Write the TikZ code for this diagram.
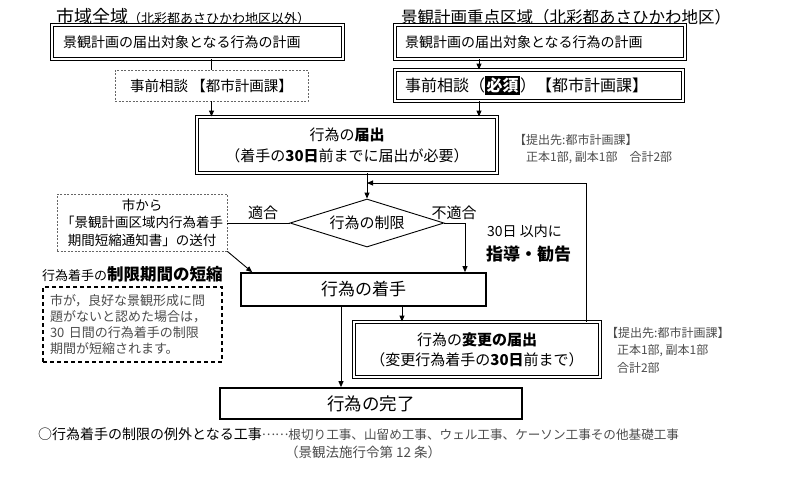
\documentclass[tikz,border=0pt]{standalone}
\usepackage{fontspec}
\setmainfont{Noto Sans CJK JP}
\usepackage{xcolor}
\usepackage{tikz}
\usetikzlibrary{arrows.meta,positioning,shapes.geometric}
\newcommand{\fsz}[1]{\fontsize{#1}{#1}\selectfont}

\begin{document}
\begin{tikzpicture}[
    x=1pt, y=-1pt,
    >={Triangle[length=6pt,width=5pt]},
    link/.style={line width=0.9pt},
    dbox/.style={draw, line width=0.9pt, double=white, double distance=1.4pt, inner sep=0pt, align=center},
    tbox/.style={draw, line width=1.7pt, inner sep=0pt, align=center},
    dotbox/.style={draw=black!60, dash pattern=on 2pt off 1.5pt, line width=0.9pt, inner sep=0pt, align=center},
    note/.style={anchor=west, align=left, text=black!70, inner sep=0pt},
    lab/.style={inner sep=0pt, font=\fsz{15}}
]
\useasboundingbox (0,0) rectangle (810,477);
\node[anchor=west, inner sep=0pt] (hdrL) at (56,17) {\fsz{18}市域全域\fsz{13}（北彩都あさひかわ地区以外）};
\node[anchor=west, inner sep=0pt] (hdrR) at (401,17) {\fsz{16.5}景観計画重点区域（北彩都あさひかわ地区）};
\node[dbox, minimum width=291pt, minimum height=34pt, text width=269pt, align=left, font=\fsz{14}] (planL) at (197.5,42) {景観計画の届出対象となる行為の計画};
\node[dbox, minimum width=290pt, minimum height=34pt, text width=270pt, align=left, font=\fsz{14}] (planR) at (540,42) {景観計画の届出対象となる行為の計画};
\node[dotbox, minimum width=193pt, minimum height=31pt, font=\fsz{14.5}] (soudanL) at (211.5,85.5) {事前相談 【都市計画課】};
\node[dbox, minimum width=288pt, minimum height=31pt, text width=268pt, align=left, font=\fsz{16}] (soudanR) at (539,85.5) {事前相談（{\setlength{\fboxsep}{1.5pt}\colorbox{black}{\textcolor{white}{\bfseries 必須}}}）【都市計画課】};
\node[dbox, minimum width=300pt, minimum height=56pt, font=\fontsize{15}{21}\selectfont] (todoke) at (347,145) {行為の\textbf{届出}\\（着手の\textbf{30日}前までに届出が必要）};
\node[note, font=\fontsize{12}{17}\selectfont] (note1) at (514,149.5) {【提出先:都市計画課】\\\hspace*{1em}正本1部, 副本1部\quad 合計2部};
\node[diamond, draw, line width=0.9pt, shape aspect=3.2, minimum width=154pt, minimum height=48pt, inner sep=0pt, font=\fsz{15}] (limit) at (367,223) {行為の制限};
\node[lab] (tekigo) at (263,213) {適合};
\node[lab] (futekigo) at (454,213) {不適合};
\node[dotbox, minimum width=170pt, minimum height=57pt, font=\fontsize{13.5}{17.5}\selectfont] (tsuchi) at (142,222.5) {市から\\「景観計画区域内行為着手\\期間短縮通知書」の送付};
\node[anchor=west, inner sep=0pt] (midashi) at (42,274) {\fsz{13}行為着手の\fsz{16.5}\bfseries 制限期間の短縮};
\node[draw, line width=1.8pt, dash pattern=on 4pt off 3pt, minimum width=179pt, minimum height=75pt, text width=165pt, align=left, inner sep=0pt, text=black!70, font=\fontsize{13}{16}\selectfont] (tanshuku) at (132.5,324.5) {市が，良好な景観形成に問\\題がないと認めた場合は，\\30 日間の行為着手の制限\\期間が短縮されます。};
\node[tbox, minimum width=245pt, minimum height=33pt, font=\fsz{17}] (chakushu) at (363.5,289.5) {行為の着手};
\node[anchor=west, inner sep=0pt, font=\fsz{14}] (shido1) at (487,231) {30日 以内に};
\node[anchor=west, inner sep=0pt, font=\fsz{17}\bfseries] (shido2) at (486,254) {指導・勧告};
\node[dbox, minimum width=246pt, minimum height=55pt, font=\fontsize{15}{20}\selectfont] (henko) at (477,349.5) {行為の\textbf{変更の届出}\\（変更行為着手の\textbf{30日}前まで）};
\node[note, font=\fontsize{12}{17.5}\selectfont] (note2) at (606,350) {【提出先:都市計画課】\\\hspace*{0.9em}正本1部, 副本1部\\\hspace*{0.9em}合計2部};
\node[tbox, minimum width=302pt, minimum height=31pt, font=\fsz{17.5}] (kanryo) at (371,403.5) {行為の完了};
\node[anchor=west, inner sep=0pt] (reigai) at (38,434) {\fsz{14}○行為着手の制限の例外となる工事{\color{black!70}\fsz{12.6}\raisebox{0.33em}{……}根切り工事、山留め工事、ウェル工事、ケーソン工事その他基礎工事}};
\node[anchor=west, inner sep=0pt, text=black!70, font=\fsz{13.5}] (horei) at (285,452) {（景観法施行令第 12 条）};
\coordinate (rx) at (479,64);
\coordinate (fb) at (586,183);
\coordinate (ng) at (465,223);
\coordinate (cx) at (341,350);
\coordinate (hx) at (402,315);
\draw[link] (soudanL.north |- planL.south) -- (soudanL.north);
\draw[link,->] (soudanL.south) -- (soudanL.south |- todoke.north);
\draw[link,->] (rx |- planR.south) -- (rx |- soudanR.north);
\draw[link,->] (rx |- soudanR.south) -- (rx |- todoke.north);
\draw[link,->] (limit.north |- todoke.south) -- (limit.north);
\draw[link,->] (fb |- henko.north) -- (fb) -- (fb -| limit.north);
\draw[link] (limit.west -| tsuchi.east) -- (limit.west);
\draw[link,->] (tsuchi.south east) -- ([xshift=12pt]chakushu.north west);
\draw[link,->] (limit.east) -- (ng) -- (ng |- chakushu.north);
\draw[link,->] (cx |- chakushu.south) -- (cx |- kanryo.north);
\draw[link,->] (hx |- chakushu.south) -- (hx |- henko.north);
\end{tikzpicture}
\end{document}
